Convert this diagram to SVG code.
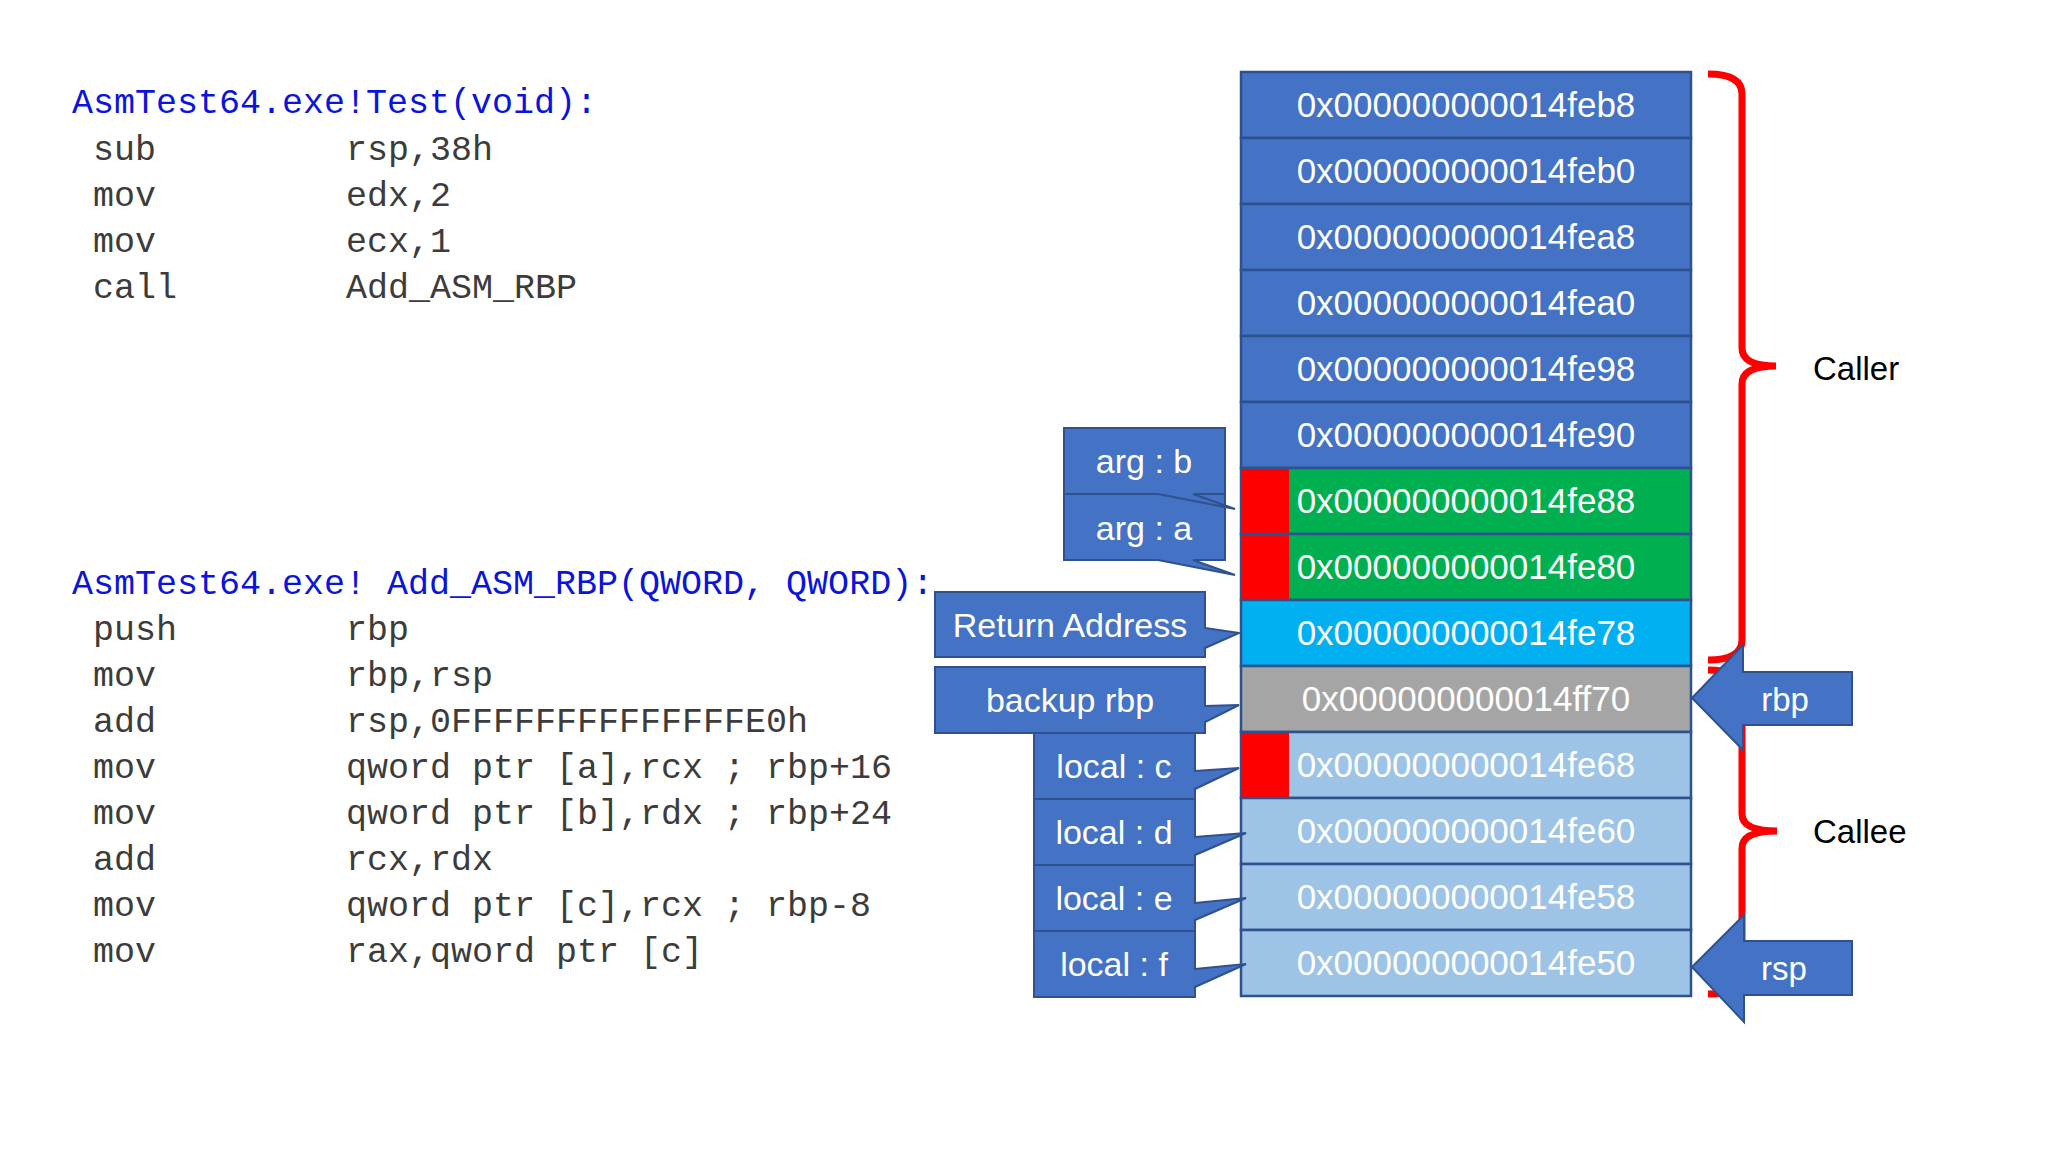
<svg xmlns="http://www.w3.org/2000/svg" width="2048" height="1152" viewBox="0 0 2048 1152">
<style>
.title{font-family:"Liberation Mono","DejaVu Sans Mono",monospace;font-size:35px;fill:#0a14dc}
.code{font-family:"Liberation Mono","DejaVu Sans Mono",monospace;font-size:35px;fill:#3c3c3c}
.cell{stroke:#2F528F;stroke-width:2.5}
.blue{fill:#4472C4}.green{fill:#00B050}.cyan{fill:#00B0F0}.gray{fill:#A5A5A5}.light{fill:#9DC3E6}
.red{fill:#FF0000}
.addr{font-family:"Liberation Sans",Arial,sans-serif;font-size:35px;fill:#ffffff;text-anchor:middle}
.call{fill:#4472C4;stroke:#2F528F;stroke-width:2;stroke-linejoin:miter}
.lbl{font-family:"Liberation Sans",Arial,sans-serif;font-size:34px;fill:#ffffff;text-anchor:middle}
.brace{fill:none;stroke:#FF0000;stroke-width:7}
.side{font-family:"Liberation Sans",Arial,sans-serif;font-size:33px;fill:#000000}
</style>
<rect width="2048" height="1152" fill="#ffffff"/>

<g id="code-test">
<text class="title" x="72" y="113">AsmTest64.exe!Test(void):</text>
<text class="code" x="93" y="160">sub</text><text class="code" x="346" y="160">rsp,38h</text>
<text class="code" x="93" y="206">mov</text><text class="code" x="346" y="206">edx,2</text>
<text class="code" x="93" y="252">mov</text><text class="code" x="346" y="252">ecx,1</text>
<text class="code" x="93" y="298">call</text><text class="code" x="346" y="298">Add_ASM_RBP</text>
</g>

<g id="code-add">
<text class="title" x="72" y="594">AsmTest64.exe! Add_ASM_RBP(QWORD, QWORD):</text>
<text class="code" x="93" y="640">push</text><text class="code" x="346" y="640">rbp</text>
<text class="code" x="93" y="686">mov</text><text class="code" x="346" y="686">rbp,rsp</text>
<text class="code" x="93" y="732">add</text><text class="code" x="346" y="732">rsp,0FFFFFFFFFFFFFFE0h</text>
<text class="code" x="93" y="778">mov</text><text class="code" x="346" y="778">qword ptr [a],rcx ; rbp+16</text>
<text class="code" x="93" y="824">mov</text><text class="code" x="346" y="824">qword ptr [b],rdx ; rbp+24</text>
<text class="code" x="93" y="870">add</text><text class="code" x="346" y="870">rcx,rdx</text>
<text class="code" x="93" y="916">mov</text><text class="code" x="346" y="916">qword ptr [c],rcx ; rbp-8</text>
<text class="code" x="93" y="962">mov</text><text class="code" x="346" y="962">rax,qword ptr [c]</text>
</g>

<g id="connectors">
<path class="brace" d="M1708,74 Q1742,74 1742,94 L1742,348 Q1742,366 1776,366 Q1742,366 1742,384 L1742,640 Q1742,660 1708,660"/>
<path class="brace" d="M1708,670 Q1742,670 1742,690 L1742,814 Q1742,831 1777,831 Q1742,831 1742,848 L1742,974 Q1742,994 1708,994"/>
</g>

<g id="row-feb8"><rect class="cell blue" x="1241" y="72" width="450" height="66"/><text class="addr" x="1466" y="117">0x000000000014feb8</text></g>
<g id="row-feb0"><rect class="cell blue" x="1241" y="138" width="450" height="66"/><text class="addr" x="1466" y="183">0x000000000014feb0</text></g>
<g id="row-fea8"><rect class="cell blue" x="1241" y="204" width="450" height="66"/><text class="addr" x="1466" y="249">0x000000000014fea8</text></g>
<g id="row-fea0"><rect class="cell blue" x="1241" y="270" width="450" height="66"/><text class="addr" x="1466" y="315">0x000000000014fea0</text></g>
<g id="row-fe98"><rect class="cell blue" x="1241" y="336" width="450" height="66"/><text class="addr" x="1466" y="381">0x000000000014fe98</text></g>
<g id="row-fe90"><rect class="cell blue" x="1241" y="402" width="450" height="66"/><text class="addr" x="1466" y="447">0x000000000014fe90</text></g>
<g id="row-fe88"><rect class="cell green" x="1241" y="468" width="450" height="66"/><rect class="red" x="1242" y="469" width="47" height="64"/><text class="addr" x="1466" y="513">0x000000000014fe88</text></g>
<g id="row-fe80"><rect class="cell green" x="1241" y="534" width="450" height="66"/><rect class="red" x="1242" y="535" width="47" height="64"/><text class="addr" x="1466" y="579">0x000000000014fe80</text></g>
<g id="row-fe78"><rect class="cell cyan" x="1241" y="600" width="450" height="66"/><text class="addr" x="1466" y="645">0x000000000014fe78</text></g>
<g id="row-ff70"><rect class="cell gray" x="1241" y="666" width="450" height="66"/><text class="addr" x="1466" y="711">0x000000000014ff70</text></g>
<g id="row-fe68"><rect class="cell light" x="1241" y="732" width="450" height="66"/><rect class="red" x="1242" y="733" width="47" height="64"/><text class="addr" x="1466" y="777">0x000000000014fe68</text></g>
<g id="row-fe60"><rect class="cell light" x="1241" y="798" width="450" height="66"/><text class="addr" x="1466" y="843">0x000000000014fe60</text></g>
<g id="row-fe58"><rect class="cell light" x="1241" y="864" width="450" height="66"/><text class="addr" x="1466" y="909">0x000000000014fe58</text></g>
<g id="row-fe50"><rect class="cell light" x="1241" y="930" width="450" height="66"/><text class="addr" x="1466" y="975">0x000000000014fe50</text></g>

<g id="callout-arg-a"><path class="call" d="M1064,494 H1225 V560 H1193 L1235,575 L1158,560 H1064 Z"/><text class="lbl" x="1144" y="540">arg : a</text></g>
<g id="callout-arg-b"><path class="call" d="M1064,428 H1225 V494 H1193 L1235,509 L1158,494 H1064 Z"/><text class="lbl" x="1144" y="473">arg : b</text></g>
<g id="callout-return"><path class="call" d="M935,592 H1205 V628 L1239,633 L1205,648 V657 H935 Z"/><text class="lbl" x="1070" y="637">Return Address</text></g>
<g id="callout-backup"><path class="call" d="M935,667 H1205 V706 L1239,705 L1205,722 V733 H935 Z"/><text class="lbl" x="1070" y="712">backup rbp</text></g>
<g id="callout-local-c"><path class="call" d="M1034,733 H1195 V771 L1239,768 L1195,789 V799 H1034 Z"/><text class="lbl" x="1114" y="778">local : c</text></g>
<g id="callout-local-d"><path class="call" d="M1034,799 H1195 V837 L1246,833 L1195,855 V865 H1034 Z"/><text class="lbl" x="1114" y="844">local : d</text></g>
<g id="callout-local-e"><path class="call" d="M1034,865 H1195 V903 L1246,898 L1195,920 V931 H1034 Z"/><text class="lbl" x="1114" y="910">local : e</text></g>
<g id="callout-local-f"><path class="call" d="M1034,931 H1195 V969 L1246,964 L1195,987 V997 H1034 Z"/><text class="lbl" x="1114" y="976">local : f</text></g>

<g id="arrow-rbp"><path class="call" d="M1692,698 L1743,645 V672 H1852 V725 H1743 V750 Z"/><text class="lbl" x="1785" y="711" style="font-size:33px">rbp</text></g>
<g id="arrow-rsp"><path class="call" d="M1692,967 L1744,915 V941 H1852 V995 H1744 V1022 Z"/><text class="lbl" x="1784" y="980" style="font-size:33px">rsp</text></g>

<g id="label-caller"><text class="side" x="1813" y="380">Caller</text></g>
<g id="label-callee"><text class="side" x="1813" y="843">Callee</text></g>
</svg>
